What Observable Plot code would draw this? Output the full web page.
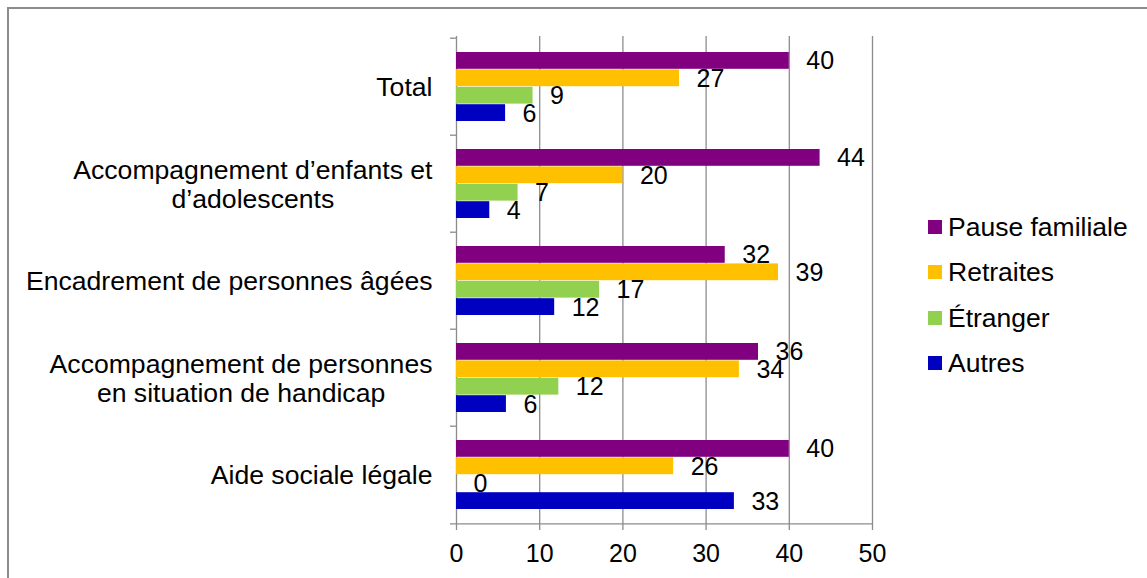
<!DOCTYPE html>
<html>
<head>
<meta charset="utf-8">
<script src="https://cdn.jsdelivr.net/npm/d3@7"></script>
<script src="https://cdn.jsdelivr.net/npm/@observablehq/plot@0.6"></script>
<style>
  html, body { margin: 0; padding: 0; background: #fff; }
  #wrap { position: relative; width: 1147px; height: 578px; overflow: hidden; font-family: "Liberation Sans", Arial, sans-serif; }
  #frame { position: absolute; left: 7px; top: 7px; width: 1200px; height: 700px; border-left: 2px solid #8c8c8c; border-top: 2px solid #8c8c8c; box-sizing: border-box; }
  #chart { position: absolute; left: 0; top: 0; }
  #legend { position: absolute; left: 928px; top: 0; font-size: 26.5px; color: #000; }
  .item { position: absolute; left: 0; white-space: nowrap; display: flex; align-items: center; height: 30px; }
  .sw { width: 14px; height: 14px; margin-right: 6px; flex: none; }
</style>
</head>
<body>
<div id="wrap">
  <div id="frame"></div>
  <div id="chart"></div>
  <div id="legend"></div>
</div>
<script>
// ---- Data ----
const categories = [
  "Total",
  "Accompagnement d’enfants et d’adolescents",
  "Encadrement de personnes âgées",
  "Accompagnement de personnes en situation de handicap",
  "Aide sociale légale"
];
const categoryLines = [
  ["Total"],
  ["Accompagnement d’enfants et", "d’adolescents"],
  ["Encadrement de personnes âgées"],
  ["Accompagnement de personnes", "en situation de handicap"],
  ["Aide sociale légale"]
];
const series = ["Pause familiale", "Retraites", "Étranger", "Autres"];
const pauseFamiliale = [40, 43.7, 32.3, 36.3, 40];
const retraites      = [26.8, 20, 38.7, 34, 26.1];
const etranger       = [9.2, 7.4, 17.2, 12.3, 0];
const autres         = [5.9, 4, 11.8, 6, 33.4];
const xTicks = [0, 10, 20, 30, 40, 50];
const colors = ["#800080", "#FFC000", "#92D050", "#0000C0"];

const seriesValues = [pauseFamiliale, retraites, etranger, autres];
const rows = [];
series.forEach((s, si) => categories.forEach((c, ci) => rows.push({category: c, series: s, value: seriesValues[si][ci]})));

// ---- Layout ----
const W = 1147, H = 578;
const mTop = 36, mBottom = 54, mLeft = 456, mRight = 275;
const step = (H - mTop - mBottom) / categories.length;
const groupPad = 14;
const barH = (step - 2 * groupPad) / series.length;
const fontFamily = "'Liberation Sans', Arial, sans-serif";
const catFont = 26.6, numFont = 25;
const grid = "#8c8c8c";

const ctx = document.createElement("canvas").getContext("2d");
ctx.font = `${catFont}px ${fontFamily}`;

const marks = [];
// gridlines and vertical axis
marks.push(Plot.ruleX(xTicks, {stroke: grid, strokeWidth: 1.3}));
// category boundary ticks
marks.push(Plot.ruleY(categories, {y: d => d, x1: 0, x2: 0, insetLeft: -6, dy: -step / 2, stroke: grid, strokeWidth: 1.3}));
marks.push(Plot.ruleY(categories.slice(-1), {y: d => d, x1: 0, x2: 50, insetLeft: -6, dy: step / 2, stroke: grid, strokeWidth: 1.3}));
// bars
series.forEach((s, i) => {
  marks.push(Plot.barX(rows.filter(r => r.series === s), {
    x: "value", y: "category", fill: "series",
    insetTop: groupPad + i * barH,
    insetBottom: step - groupPad - (i + 1) * barH
  }));
});
// value labels
series.forEach((s, i) => {
  marks.push(Plot.text(rows.filter(r => r.series === s), {
    x: "value", y: "category", text: d => String(Math.round(d.value)),
    textAnchor: "start", dx: 17, dy: groupPad + (i + 0.5) * barH - step / 2 + 0.5,
    fontSize: numFont, fill: "black"
  }));
});
// category labels (multi-line centred, block right-aligned)
categories.forEach((c, ci) => {
  const lines = categoryLines[ci];
  const wmax = Math.max(...lines.map(l => ctx.measureText(l).width));
  marks.push(Plot.text([c], {
    y: d => d, text: () => lines.join("\n"), frameAnchor: "left",
    textAnchor: "middle", dx: -24 - wmax / 2, lineHeight: 1.11,
    fontSize: catFont, fill: "black"
  }));
});
// x axis
marks.push(Plot.axisX(xTicks, {tickSize: 6, tickPadding: 14, fontSize: numFont, stroke: grid, fill: "black", label: null, strokeWidth: 1.3}));

const plot = Plot.plot({
  width: W, height: H,
  marginTop: mTop, marginBottom: mBottom, marginLeft: mLeft, marginRight: mRight,
  style: {background: "transparent", fontFamily, color: "black"},
  x: {domain: [0, 50]},
  y: {domain: categories, padding: 0, axis: null},
  color: {domain: series, range: colors},
  marks
});
document.getElementById("chart").appendChild(plot);

// legend
const legendCenters = [227, 272, 318, 363];
const legend = document.getElementById("legend");
series.forEach((s, i) => {
  const item = document.createElement("div");
  item.className = "item";
  item.style.top = (legendCenters[i] - 15) + "px";
  const sw = document.createElement("span");
  sw.className = "sw";
  sw.style.background = colors[i];
  const t = document.createElement("span");
  t.textContent = s;
  item.appendChild(sw); item.appendChild(t);
  legend.appendChild(item);
});
</script>
</body>
</html>
